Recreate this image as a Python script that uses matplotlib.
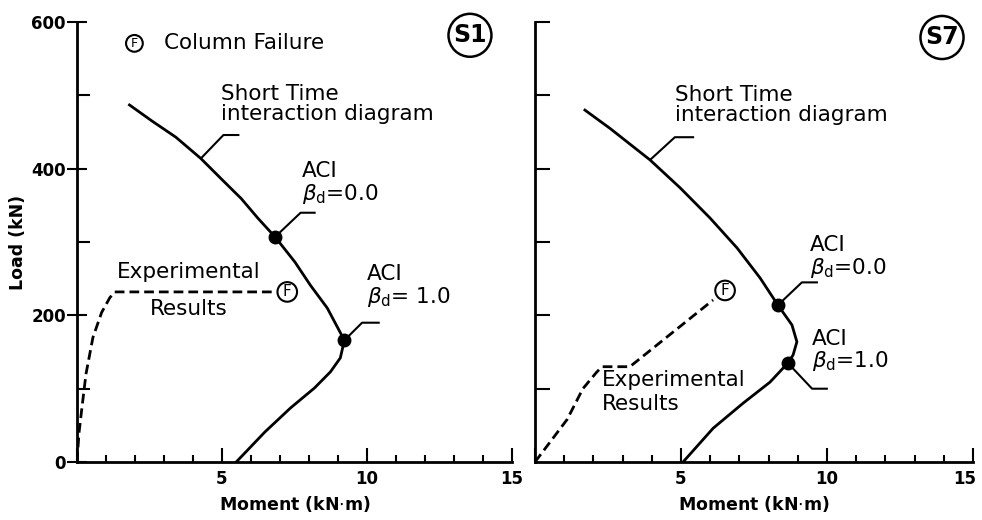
import matplotlib
matplotlib.use("Agg")
import matplotlib.pyplot as plt
import matplotlib.transforms as mtransforms
from matplotlib.ticker import MultipleLocator

plt.rcParams['font.family'] = ['DejaVu Sans']
plt.rcParams['mathtext.fontset'] = 'dejavusans'

# Short time interaction diagrams (moment kN.m, load kN)
s1_moment = [1.81, 2.59, 3.41, 4.27, 4.98, 5.67, 6.25, 6.83, 7.51, 8.05, 8.63, 9.22,
             9.08, 8.74, 8.19, 7.37, 6.48, 5.49]
s1_load = [487, 465, 443, 414, 386, 359, 332, 307, 273, 241, 210, 166,
           142, 123, 101, 74, 41, 0]
s7_moment = [1.71, 2.57, 3.94, 4.97, 5.99, 6.92, 7.71, 8.32, 8.80, 8.97, 8.84, 8.66,
             8.05, 7.12, 6.10, 5.07]
s7_load = [480, 455, 412, 374, 333, 292, 251, 214, 187, 164, 146, 135,
           109, 80, 46, 0]

# Experimental results
s1_exp_moment = [0, 0.07, 0.17, 0.31, 0.55, 0.85, 1.13, 1.30, 6.85]
s1_exp_load = [0, 40, 74, 120, 170, 204, 224, 232, 232]
s7_exp_moment = [0, 1.10, 1.64, 2.10, 2.29, 3.25, 6.10]
s7_exp_load = [0, 58, 100, 122, 130, 130, 221]

# ACI points (beta_d = 0.0, beta_d = 1.0) and column failure points
s1_aci = ([6.83, 9.22], [307, 166])
s7_aci = ([8.32, 8.66], [214, 135])
s1_fail = (7.25, 232)
s7_fail = (6.51, 234)

LW = 2.0
TXT = 15.5

fig = plt.figure(figsize=(9.82, 5.2), dpi=100)
ax1 = fig.add_axes([0.0784, 0.1115, 0.443, 0.846])
ax2 = fig.add_axes([0.5448, 0.1115, 0.446, 0.846])


def setup(ax, left):
    ax.set_xlim(0, 15)
    ax.set_ylim(0, 600)
    for s in ['top', 'right']:
        ax.spines[s].set_visible(False)
    for s in ['left', 'bottom']:
        ax.spines[s].set_linewidth(LW)
    ax.set_xticks([0, 5, 10, 15])
    ax.set_xticklabels(['', '5', '10', '15'], fontsize=12, fontweight='bold')
    ax.xaxis.set_minor_locator(MultipleLocator(1))
    ax.tick_params(axis='x', which='major', direction='in', length=10, width=1.5, pad=6)
    ax.tick_params(axis='x', which='minor', direction='in', length=5, width=1.5)
    if left:
        ax.set_yticks([0, 200, 400, 600])
        ax.set_yticklabels(['0', '200', '400', '600'], fontsize=12, fontweight='bold')
        ax.yaxis.set_minor_locator(MultipleLocator(100))
        ax.tick_params(axis='y', which='major', direction='inout', length=14, width=1.5, pad=1)
        ax.tick_params(axis='y', which='minor', direction='in', length=9, width=1.5)
        ax.set_ylabel('Load (kN)', fontsize=12.5, fontweight='bold', labelpad=3)
    else:
        ax.set_yticks([100, 200, 300, 400, 500, 600])
        ax.set_yticklabels([])
        ax.tick_params(axis='y', which='major', direction='in', length=11, width=1.5)
    ax.set_xlabel('Moment (kN$\\cdot$m)', fontsize=12.5, fontweight='bold', labelpad=4)


def circled(ax, x, y, s, size, pad, weight='normal', lw=1.5):
    ax.text(x, y, s, fontsize=size, fontweight=weight, ha='center', va='center',
            bbox=dict(boxstyle='circle,pad=%s' % pad, fc='white', ec='black', lw=lw),
            clip_on=False)


def leader(ax, pts):
    xs, ys = zip(*pts)
    ax.plot(xs, ys, color='black', lw=1.5, solid_capstyle='butt')


setup(ax1, True)
setup(ax2, False)

# keep the last "15" inside the picture
lab = ax2.get_xticklabels()[-1]
lab.set_transform(lab.get_transform() +
                  mtransforms.ScaledTranslation(-6 / 72, 0, fig.dpi_scale_trans))

# ---- S1 ----
ax1.plot(s1_moment, s1_load, color='black', lw=LW, solid_joinstyle='round')
ax1.plot(s1_exp_moment, s1_exp_load, color='black', lw=LW, linestyle=(0, (3.5, 1.8)))
ax1.plot(*s1_aci, 'o', color='black', markersize=9, clip_on=False)
circled(ax1, *s1_fail, 'F', 11, 0.15)
ax1.text(4.95, 516, 'Short Time\ninteraction diagram', fontsize=TXT, ha='left', va='top',
         linespacing=1.0)
leader(ax1, [(4.27, 414), (5.05, 446), (5.6, 446)])
ax1.text(7.75, 410, 'ACI\n$\\beta_{\\rm d}$=0.0', fontsize=TXT, ha='left', va='top',
         linespacing=1.05)
leader(ax1, [(6.83, 307), (7.71, 340), (8.23, 340)])
ax1.text(10.0, 270, 'ACI\n$\\beta_{\\rm d}$= 1.0', fontsize=TXT, ha='left', va='top',
         linespacing=1.05)
leader(ax1, [(9.22, 166), (9.83, 190), (10.44, 190)])
ax1.text(3.86, 273, 'Experimental', fontsize=TXT, ha='center', va='top')
ax1.text(3.86, 222, 'Results', fontsize=TXT, ha='center', va='top')
circled(ax1, 1.98, 571, 'F', 9, 0.15)
ax1.text(3.0, 571, 'Column Failure', fontsize=TXT, ha='left', va='center')
circled(ax1, 13.55, 582, 'S1', 17, 0.2, weight='bold', lw=1.8)

# ---- S7 ----
ax2.plot(s7_moment, s7_load, color='black', lw=LW, solid_joinstyle='round')
ax2.plot(s7_exp_moment, s7_exp_load, color='black', lw=LW, linestyle=(0, (3.5, 1.8)))
ax2.plot(*s7_aci, 'o', color='black', markersize=9, clip_on=False)
circled(ax2, *s7_fail, 'F', 11, 0.15)
ax2.text(4.79, 514, 'Short Time\ninteraction diagram', fontsize=TXT, ha='left', va='top',
         linespacing=1.0)
leader(ax2, [(3.94, 412), (4.79, 443), (5.45, 443)])
ax2.text(9.42, 310, 'ACI\n$\\beta_{\\rm d}$=0.0', fontsize=TXT, ha='left', va='top',
         linespacing=1.05)
leader(ax2, [(8.32, 214), (9.14, 245), (9.69, 245)])
ax2.text(9.49, 182, 'ACI\n$\\beta_{\\rm d}$=1.0', fontsize=TXT, ha='left', va='top',
         linespacing=1.05)
leader(ax2, [(8.66, 135), (9.49, 100), (10.03, 100)])
ax2.text(2.29, 125, 'Experimental\nResults', fontsize=TXT, ha='left', va='top',
         linespacing=1.25)
circled(ax2, 13.94, 579, 'S7', 17, 0.2, weight='bold', lw=1.8)

fig.savefig('out.png', dpi=100)
